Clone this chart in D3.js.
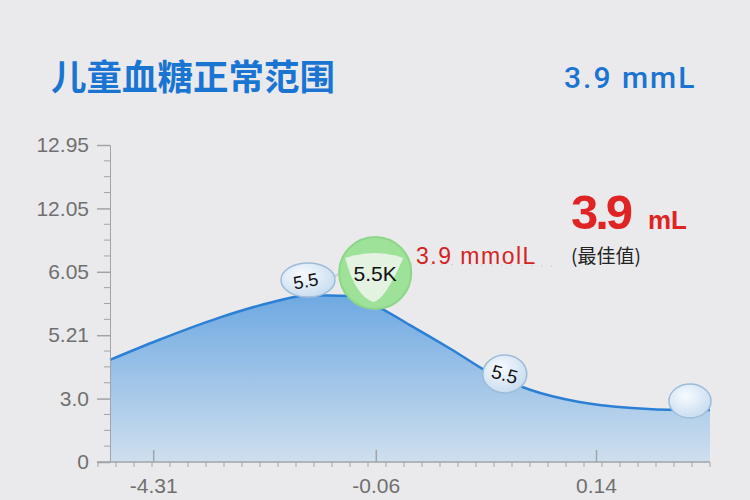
<!DOCTYPE html>
<html>
<head>
<meta charset="utf-8">
<script src="https://cdn.jsdelivr.net/npm/d3@7"></script>
<style>
  body { margin: 0; background: #eaeaec; }
  svg { display: block; }
</style>
</head>
<body>
<div id="chart"></div>
<script>
const w = 750, h = 500

// data
const titleText = '儿童血糖正常范围'
const headlineValue = '3.9 mmL'
const yTickLabels = ['0', '3.0', '5.21', '6.05', '12.05', '12.95']
const xTickValues = [7.2, 44.3, 81]
const xTickLabels = ['-4.31', '-0.06', '0.14']
const curveX = [0, 8, 18, 27, 33, 40, 44, 50, 57, 63, 70, 78, 87, 95, 100]
const curveY = [1.61, 1.92, 2.27, 2.52, 2.63, 2.62, 2.48, 2.16, 1.77, 1.42, 1.14, 0.95, 0.85, 0.82, 0.82]
const bubbleX = [33, 44.2, 65.8, 97]
const bubbleLabels = ['5.5', '5.5K', '5.5', '']
const calloutText = '3.9 mmolL'
const bestValue = '3.9'
const bestUnit = 'mL'
const bestNote = '(最佳值)'

const points = curveX.map((x, i) => ({ x, y: curveY[i] }))

const mLeft = 110, mRight = 710, mTop = 145, mBottom = 462

const svg = d3.select('#chart')
    .append('svg')
    .attr('width', w)
    .attr('height', h)
    .style('font-family', '"Noto Sans CJK SC", "Noto Sans", sans-serif')

const defs = svg.append('defs')
const grad = defs.append('linearGradient')
    .attr('id', 'areaFill')
    .attr('x1', 0).attr('y1', 0).attr('x2', 0).attr('y2', 1)
grad.append('stop').attr('offset', '0%').attr('stop-color', '#6ea9e2')
grad.append('stop').attr('offset', '100%').attr('stop-color', '#cfdfee')

const bub = defs.append('radialGradient')
    .attr('id', 'bubbleFill')
    .attr('cx', '40%').attr('cy', '35%').attr('r', '70%')
bub.append('stop').attr('offset', '0%').attr('stop-color', '#f8fbfe')
bub.append('stop').attr('offset', '100%').attr('stop-color', '#c6dbef')

let x = d3.scaleLinear().domain([0, 100]).range([mLeft, mRight])
let y = d3.scaleLinear().domain([0, 5]).range([mBottom, mTop])

// title
svg.append('text')
    .attr('x', 51)
    .attr('y', 90)
    .attr('fill', '#1a74d2')
    .attr('font-size', 35.5)
    .attr('font-weight', 'bold')
    .text(titleText)

svg.append('text')
    .attr('x', 564)
    .attr('y', 88)
    .attr('fill', '#1a74d2')
    .attr('font-size', 30)
    .attr('font-weight', 500)
    .attr('letter-spacing', 2)
    .attr('font-family', 'Roboto, sans-serif')
    .text(headlineValue)

// area + line
let area = d3.area()
    .x(d => x(d.x))
    .y0(y(0))
    .y1(d => y(d.y))
    .curve(d3.curveMonotoneX)
let line = d3.line()
    .x(d => x(d.x))
    .y(d => y(d.y))
    .curve(d3.curveMonotoneX)

svg.append('path')
    .attr('d', area(points))
    .attr('fill', 'url(#areaFill)')

svg.append('path')
    .attr('d', line(points))
    .attr('fill', 'none')
    .attr('stroke', '#2b80d6')
    .attr('stroke-width', 2.5)

// y axis
let yAxis = d3.axisLeft(y)
    .tickValues(d3.range(yTickLabels.length))
    .tickFormat((d, i) => yTickLabels[i])
    .tickSize(13)
    .tickPadding(8)
let yg = svg.append('g')
    .attr('transform', `translate(${mLeft},0)`)
    .call(yAxis)
yg.select('.domain').attr('stroke', '#a0a4a8')
yg.selectAll('.tick line').attr('stroke', '#a0a4a8').attr('stroke-width', 1.5)
yg.selectAll('.tick text')
    .attr('fill', '#707070')
    .attr('font-size', 21)
    .attr('font-family', '"Liberation Sans", Arial, sans-serif')
yg.append('g')
    .selectAll('line')
    .data(d3.range(0, 5, 0.25).filter(v => v % 1 !== 0))
    .enter()
    .append('line')
    .attr('x1', -6)
    .attr('x2', 0)
    .attr('y1', d => y(d))
    .attr('y2', d => y(d))
    .attr('stroke', '#a0a4a8')

// x axis
let xAxis = d3.axisBottom(x)
    .tickValues(xTickValues)
    .tickFormat((d, i) => xTickLabels[i])
    .tickSize(-12)
    .tickPadding(16)
let xg = svg.append('g')
    .attr('transform', `translate(0,${mBottom})`)
    .call(xAxis)
xg.select('.domain').remove()
xg.append('line')
    .attr('x1', mLeft - 13)
    .attr('x2', mRight)
    .attr('stroke', '#a0a4a8')
    .attr('stroke-width', 1.5)
xg.selectAll('.tick line').attr('stroke', '#a0a4a8').attr('stroke-width', 1.5)
xg.selectAll('.tick text')
    .attr('fill', '#707070')
    .attr('font-size', 21)
    .attr('font-family', '"Liberation Sans", Arial, sans-serif')
xg.append('g')
    .selectAll('line')
    .data(d3.range(-2, 101, 3))
    .enter()
    .append('line')
    .attr('x1', d => x(d))
    .attr('x2', d => x(d))
    .attr('y1', 0)
    .attr('y2', 5)
    .attr('stroke', '#a0a4a8')

// bubbles
let bx = bubbleX.map(v => x(v))

// connector lines
svg.append('line')
    .attr('x1', bx[0] + 25).attr('y1', 277)
    .attr('x2', bx[1] - 34).attr('y2', 273)
    .attr('stroke', '#c8cfd6').attr('stroke-width', 2)
svg.append('line')
    .attr('x1', bx[1] + 36).attr('y1', 264)
    .attr('x2', 552).attr('y2', 266)
    .attr('stroke', '#b8b8b8').attr('stroke-width', 1)
    .attr('stroke-dasharray', '1 9')

svg.append('ellipse')
    .attr('cx', bx[0]).attr('cy', 280)
    .attr('rx', 27).attr('ry', 17)
    .attr('fill', 'url(#bubbleFill)')
    .attr('stroke', '#9dbcd9').attr('stroke-width', 1.5)
svg.append('text')
    .attr('x', bx[0] - 2).attr('y', 287)
    .attr('text-anchor', 'middle')
    .attr('font-size', 18)
    .attr('fill', '#111')
    .attr('transform', `rotate(-10,${bx[0]},282)`)
    .attr('font-family', '"Liberation Sans", Arial, sans-serif')
    .text(bubbleLabels[0])

svg.append('circle')
    .attr('cx', bx[1]).attr('cy', 273)
    .attr('r', 36)
    .attr('fill', '#9ee29a')
    .attr('stroke', '#8cd689').attr('stroke-width', 2)
svg.append('path')
    .attr('d', `M${bx[1] - 30},${258} Q${bx[1]},${248} ${bx[1] + 28},${258} Q${bx[1] + 10},${300} ${bx[1] - 2},${302} Q${bx[1] - 20},${296} ${bx[1] - 30},${258} Z`)
    .attr('fill', '#e4f2e2')
svg.append('text')
    .attr('x', bx[1]).attr('y', 281)
    .attr('text-anchor', 'middle')
    .attr('font-size', 21)
    .attr('fill', '#111')
    .attr('font-family', '"Liberation Sans", Arial, sans-serif')
    .text(bubbleLabels[1])

svg.append('ellipse')
    .attr('cx', bx[2]).attr('cy', 374)
    .attr('rx', 22).attr('ry', 19)
    .attr('fill', 'url(#bubbleFill)')
    .attr('stroke', '#9dbcd9').attr('stroke-width', 1.5)
svg.append('text')
    .attr('x', bx[2]).attr('y', 381)
    .attr('text-anchor', 'middle')
    .attr('font-size', 19)
    .attr('fill', '#111')
    .attr('transform', `rotate(15,${bx[2]},374)`)
    .attr('font-family', '"Liberation Sans", Arial, sans-serif')
    .text(bubbleLabels[2])

svg.append('ellipse')
    .attr('cx', bx[3] - 2).attr('cy', 401)
    .attr('rx', 21).attr('ry', 17)
    .attr('fill', 'url(#bubbleFill)')
    .attr('stroke', '#9dbcd9').attr('stroke-width', 1.5)

// callouts
svg.append('text')
    .attr('x', 416).attr('y', 264)
    .attr('fill', '#d42323')
    .attr('font-size', 23)
    .attr('letter-spacing', 1.5)
    .attr('font-family', '"Liberation Sans", Arial, sans-serif')
    .text(calloutText)

svg.append('text')
    .attr('x', 571).attr('y', 229)
    .attr('fill', '#e02424')
    .attr('font-size', 49)
    .attr('font-weight', 'bold')
    .attr('letter-spacing', -3)
    .attr('font-family', '"Liberation Sans", Arial, sans-serif')
    .text(bestValue)
svg.append('text')
    .attr('x', 648).attr('y', 229)
    .attr('fill', '#e02424')
    .attr('font-size', 26)
    .attr('font-weight', 'bold')
    .attr('font-family', '"Liberation Sans", Arial, sans-serif')
    .text(bestUnit)
svg.append('text')
    .attr('x', 571).attr('y', 263)
    .attr('fill', '#222')
    .attr('font-size', 19)
    .text(bestNote)
</script>
</body>
</html>
